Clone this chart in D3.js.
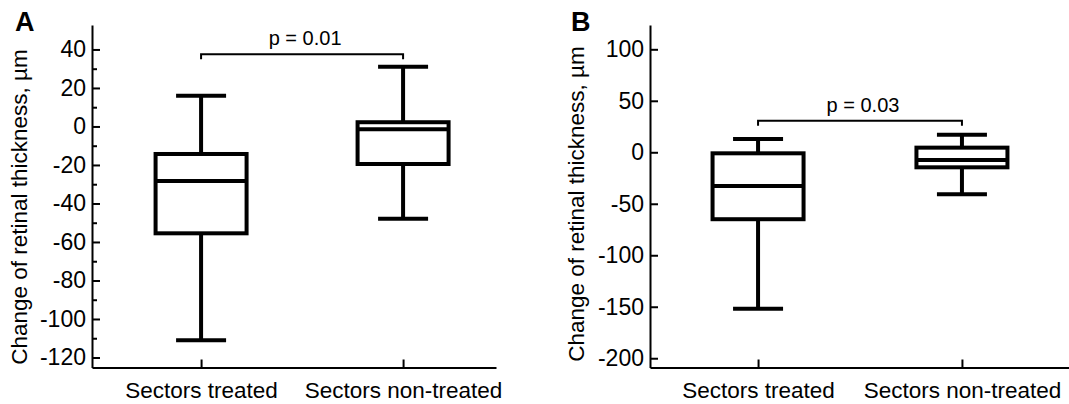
<!DOCTYPE html>
<html>
  <head>
    <meta charset="utf-8">
    <title>Retinal thickness box plots</title>
    <script src="https://cdn.jsdelivr.net/npm/d3@7"></script>
    <style>
      body { margin: 0; background: #fff; }
      text { font-family: "Liberation Sans", Arial, sans-serif; fill: #000; }
    </style>
  </head>
  <body>
    <div id="chart"></div>
    <script>

    // categories
    var categories = ["Sectors treated", "Sectors non-treated"];

    // box stats: [whisker low, q1, median, q3, whisker high]
    var boxesA = [
      [-111, -55.5, -28.3, -14.3, 16],
      [-48, -19.5, -1.5, 2.2, 31]
    ];
    var boxesB = [
      [-152, -65, -32.7, -1, 13],
      [-40.8, -14.6, -7.5, 4.5, 17]
    ];

    var ticksA = [-120, -100, -80, -60, -40, -20, 0, 20, 40];
    var minorTicksA = [-110, -90, -70, -50, -30, -10, 10, 30];
    var ticksB = [-200, -150, -100, -50, 0, 50, 100];

    var pLabels = ["p = 0.01", "p = 0.03"];
    var bracketValues = [37.5, 30.7];

    var yTitle = "Change of retinal thickness, µm";

    var width = 1069, height = 404;

    var svg = d3.select("#chart").append("svg")
      .attr("width", width)
      .attr("height", height);

    function panel(opts) {
      var g = svg.append("g").attr("transform", "translate(" + opts.left + ",0)");
      var top = 25, bottom = 367.5;

      var y = d3.scaleLinear().domain(opts.domain).range([bottom, top]);
      var x = d3.scalePoint().domain(categories)
        .range([0, opts.axisWidth]).padding(opts.padding).align(opts.align);

      // minor ticks
      if (opts.minor) {
        g.append("g")
          .call(d3.axisLeft(y).tickValues(opts.minor).tickSize(-5).tickFormat(""))
          .call(function(s) { s.select(".domain").remove(); })
          .selectAll("line").attr("stroke-width", 2);
      }

      // y axis (plain hyphen for negatives, as in the original)
      var ya = g.append("g")
        .call(d3.axisLeft(y).tickValues(opts.ticks).tickSize(-8).tickSizeOuter(0)
          .tickPadding(6).tickFormat(function(d) { return String(d); }));
      ya.select(".domain").attr("stroke-width", 2);
      ya.selectAll(".tick line").attr("stroke-width", 2);
      ya.selectAll("text").style("font-size", "23px").attr("font-family", null);

      // x axis
      var xa = g.append("g").attr("transform", "translate(0," + bottom + ")")
        .call(d3.axisBottom(x).tickSize(-8).tickSizeOuter(0).tickPadding(15));
      xa.select(".domain").attr("stroke-width", 2);
      xa.selectAll(".tick line").attr("stroke-width", 2);
      xa.selectAll("text").style("font-size", "22.5px").attr("font-family", null);

      // boxes
      var boxW = 91, capW = 50;
      var b = g.selectAll(".box").data(opts.boxes).enter().append("g").attr("class", "box")
        .attr("transform", function(d, i) { return "translate(" + x(categories[i]) + ",0)"; });

      b.append("line").attr("x1", 0).attr("x2", 0)
        .attr("y1", function(d) { return y(d[4]); })
        .attr("y2", function(d) { return y(d[0]); })
        .attr("stroke", "#000").attr("stroke-width", 4);
      b.selectAll(".cap").data(function(d) { return [d[0], d[4]]; }).enter().append("line")
        .attr("class", "cap")
        .attr("x1", -capW / 2).attr("x2", capW / 2)
        .attr("y1", function(v) { return y(v); }).attr("y2", function(v) { return y(v); })
        .attr("stroke", "#000").attr("stroke-width", 4);
      b.append("rect")
        .attr("x", -boxW / 2).attr("width", boxW)
        .attr("y", function(d) { return y(d[3]); })
        .attr("height", function(d) { return y(d[1]) - y(d[3]); })
        .attr("fill", "#fff").attr("stroke", "#000").attr("stroke-width", 4);
      b.append("line")
        .attr("x1", -boxW / 2).attr("x2", boxW / 2)
        .attr("y1", function(d) { return y(d[2]); })
        .attr("y2", function(d) { return y(d[2]); })
        .attr("stroke", "#000").attr("stroke-width", 4);

      // significance bracket
      var by = y(opts.bracket), x0 = x(categories[0]), x1 = x(categories[1]);
      g.append("path")
        .attr("d", "M" + x0 + "," + (by + 5) + "V" + by + "H" + x1 + "V" + (by + 5))
        .attr("fill", "none").attr("stroke", "#000").attr("stroke-width", 2);
      g.append("text")
        .attr("x", (x0 + x1) / 2 + 3).attr("y", by - 9)
        .attr("text-anchor", "middle")
        .style("font-size", "20px")
        .text(opts.pLabel);

      // y title
      g.append("text")
        .attr("transform", "translate(" + opts.titleX + "," + opts.titleY + ") rotate(-90)")
        .attr("text-anchor", "middle")
        .style("font-size", "22.5px")
        .text(yTitle);

      // panel letter
      g.append("text")
        .attr("x", opts.letterX).attr("y", 31)
        .style("font-size", "27px").style("font-weight", "bold")
        .text(opts.letter);
    }

    panel({
      left: 92, domain: [-125.2, 52.7], ticks: ticksA, minor: minorTicksA,
      axisWidth: 404, padding: 0.5, align: 0.54, boxes: boxesA,
      bracket: bracketValues[0], pLabel: pLabels[0], titleX: -65, titleY: 207,
      letterX: -77, letter: "A"
    });

    panel({
      left: 650, domain: [-209, 123.6], ticks: ticksB, minor: null,
      axisWidth: 420, padding: 0.53, align: 0.5, boxes: boxesB,
      bracket: bracketValues[1], pLabel: pLabels[1], titleX: -66, titleY: 204,
      letterX: -79, letter: "B"
    });

    </script>
  </body>
</html>
